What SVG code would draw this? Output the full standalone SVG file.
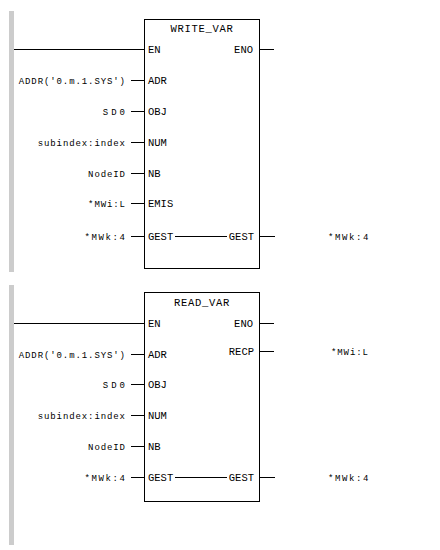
<svg xmlns="http://www.w3.org/2000/svg" width="440" height="550" viewBox="0 0 440 550">
<style>
.bar{fill:#cccccc}
.box{fill:none;stroke:#000;stroke-width:1}
.ln{stroke:#000;stroke-width:1;fill:none}
.pin{font-family:"Liberation Mono",monospace;font-size:10.5px;fill:#000}
.ttl{font-family:"Liberation Mono",monospace;font-size:10.5px;letter-spacing:0.7px;fill:#000;text-anchor:middle}
.lbl{font-family:"Liberation Mono",monospace;font-size:9px;letter-spacing:0.9px;fill:#000}
.r{text-anchor:end}
.w3{letter-spacing:3px}
.w2{letter-spacing:1.6px}
</style>
<rect class="bar" x="9" y="11" width="5" height="261"/>
<rect class="bar" x="9" y="285" width="5" height="260"/>

<g id="connectors">
  <line class="ln" x1="14" y1="49.5" x2="144" y2="49.5"/>
  <line class="ln" x1="131" y1="80.5" x2="144" y2="80.5"/>
  <line class="ln" x1="131" y1="111.5" x2="144" y2="111.5"/>
  <line class="ln" x1="131" y1="142.5" x2="144" y2="142.5"/>
  <line class="ln" x1="131" y1="173.5" x2="144" y2="173.5"/>
  <line class="ln" x1="131" y1="203.5" x2="144" y2="203.5"/>
  <line class="ln" x1="131" y1="236.5" x2="144" y2="236.5"/>
  <line class="ln" x1="175" y1="236.5" x2="227" y2="236.5"/>
  <line class="ln" x1="260" y1="49.5" x2="274" y2="49.5"/>
  <line class="ln" x1="260" y1="236.5" x2="275" y2="236.5"/>
  <line class="ln" x1="14" y1="323.5" x2="144" y2="323.5"/>
  <line class="ln" x1="131" y1="354.5" x2="144" y2="354.5"/>
  <line class="ln" x1="131" y1="384.5" x2="144" y2="384.5"/>
  <line class="ln" x1="131" y1="415.5" x2="144" y2="415.5"/>
  <line class="ln" x1="131" y1="446.5" x2="144" y2="446.5"/>
  <line class="ln" x1="131" y1="477.5" x2="144" y2="477.5"/>
  <line class="ln" x1="175" y1="477.5" x2="227" y2="477.5"/>
  <line class="ln" x1="260" y1="323.5" x2="274" y2="323.5"/>
  <line class="ln" x1="260" y1="351.5" x2="274" y2="351.5"/>
  <line class="ln" x1="260" y1="477.5" x2="275" y2="477.5"/>
</g>

<g id="write_var">
  <rect class="box" x="144.5" y="19.5" width="115" height="249"/>
  <text class="ttl" x="202" y="31.5">WRITE_VAR</text>
  <text class="pin" x="148" y="53">EN</text>
  <text class="pin r" x="253" y="53">ENO</text>
  <text class="pin" x="148" y="84">ADR</text>
  <text class="pin" x="148" y="115">OBJ</text>
  <text class="pin" x="148" y="146">NUM</text>
  <text class="pin" x="148" y="177">NB</text>
  <text class="pin" x="148" y="207">EMIS</text>
  <text class="pin" x="148" y="240">GEST</text>
  <text class="pin r" x="254" y="240">GEST</text>
</g>

<g id="write_inputs">
  <text class="lbl r" x="125.9" y="84">ADDR('0.m.1.SYS')</text>
  <text class="lbl r w3" x="128" y="115">SD0</text>
  <text class="lbl r" x="125.9" y="146">subindex:index</text>
  <text class="lbl r" x="125.9" y="177">NodeID</text>
  <text class="lbl r" x="125.9" y="207">*MWi:L</text>
  <text class="lbl r w2" x="126.6" y="240">*MWk:4</text>
  <text class="lbl w2" x="328" y="240">*MWk:4</text>
</g>

<g id="read_var">
  <rect class="box" x="144.5" y="292.5" width="115" height="209"/>
  <text class="ttl" x="202" y="306">READ_VAR</text>
  <text class="pin" x="148" y="327">EN</text>
  <text class="pin r" x="253" y="327">ENO</text>
  <text class="pin r" x="254" y="355">RECP</text>
  <text class="pin" x="148" y="358">ADR</text>
  <text class="pin" x="148" y="388">OBJ</text>
  <text class="pin" x="148" y="419">NUM</text>
  <text class="pin" x="148" y="450">NB</text>
  <text class="pin" x="148" y="481">GEST</text>
  <text class="pin r" x="254" y="481">GEST</text>
</g>

<g id="read_io">
  <text class="lbl r" x="125.9" y="358">ADDR('0.m.1.SYS')</text>
  <text class="lbl r w3" x="128" y="388">SD0</text>
  <text class="lbl r" x="125.9" y="419">subindex:index</text>
  <text class="lbl r" x="125.9" y="450">NodeID</text>
  <text class="lbl r w2" x="126.6" y="481">*MWk:4</text>
  <text class="lbl" x="331" y="355">*MWi:L</text>
  <text class="lbl w2" x="328" y="481">*MWk:4</text>
</g>
</svg>
